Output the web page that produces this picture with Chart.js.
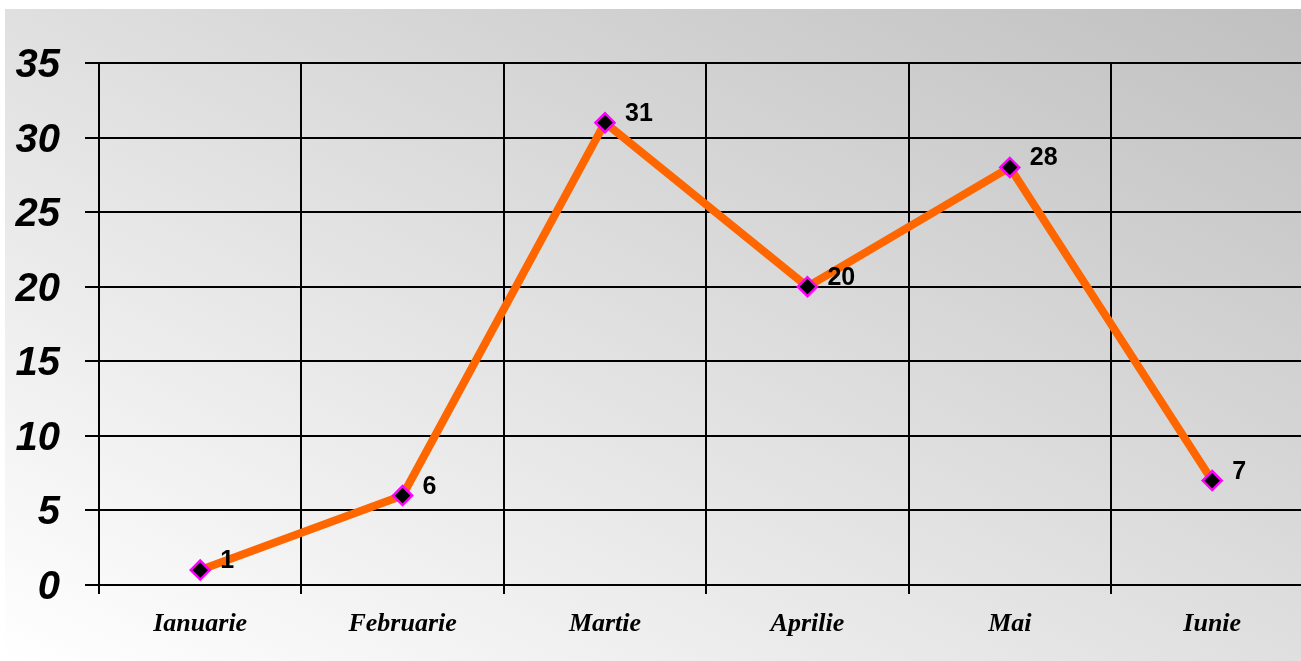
<!DOCTYPE html>
<html>
<head>
<meta charset="utf-8">
<script src="https://cdn.jsdelivr.net/npm/chart.js@4/dist/chart.umd.min.js"></script>
<style>
  html, body { margin: 0; padding: 0; overflow: hidden; background: #fff; }
  #wrap { width: 1301px; height: 661px; overflow: hidden; position: relative; }
  canvas { display: block; }
</style>
</head>
<body>
<div id="wrap"><canvas id="c" width="1330" height="661"></canvas></div>
<script>
const categories = ['Ianuarie', 'Februarie', 'Martie', 'Aprilie', 'Mai', 'Iunie'];
const values = [1, 6, 31, 20, 28, 7];
const yMin = 0;
const yMax = 35;
const yStep = 5;

const bgPlugin = {
  id: 'bg',
  beforeDraw(chart) {
    const ctx = chart.ctx;
    ctx.save();
    ctx.fillStyle = '#ffffff';
    ctx.fillRect(0, 0, chart.width, chart.height);
    ctx.translate(5, 9);
    ctx.scale(1296, 652);
    const g = ctx.createLinearGradient(0, 1, 1, 0);
    g.addColorStop(0, '#ffffff');
    g.addColorStop(1, '#c0c0c0');
    ctx.fillStyle = g;
    ctx.fillRect(0, 0, 1, 1);
    ctx.restore();
  }
};

const labelPlugin = {
  id: 'valueLabels',
  afterDatasetsDraw(chart) {
    const ctx = chart.ctx;
    const meta = chart.getDatasetMeta(0);
    ctx.save();
    ctx.fillStyle = '#000';
    ctx.font = "bold 25px 'Liberation Sans', Arial, sans-serif";
    ctx.textAlign = 'left';
    ctx.textBaseline = 'alphabetic';
    meta.data.forEach((pt, i) => {
      ctx.fillText(String(values[i]), pt.x + 20, pt.y - 2);
    });
    ctx.restore();
  }
};

new Chart(document.getElementById('c'), {
  type: 'line',
  data: {
    labels: categories,
    datasets: [{
      data: values,
      borderColor: '#ff6600',
      borderWidth: 8,
      tension: 0,
      pointStyle: 'rectRot',
      pointRadius: 9.5,
      pointHoverRadius: 9.5,
      pointBackgroundColor: '#000000',
      pointBorderColor: '#ff00ff',
      pointBorderWidth: 2.5,
      clip: false
    }]
  },
  options: {
    responsive: false,
    animation: false,
    devicePixelRatio: 1,
    layout: { padding: { top: 63, left: 0, right: 16.6, bottom: 0 } },
    plugins: { legend: { display: false }, tooltip: { enabled: false } },
    scales: {
      x: {
        type: 'category',
        offset: true,
        grid: { offset: true, color: '#000', lineWidth: 2, tickLength: 9, drawTicks: true },
        border: { color: '#000', width: 2 },
        ticks: {
          color: '#000',
          padding: 15,
          maxRotation: 0,
          autoSkip: false,
          font: { family: "'Liberation Serif', 'Times New Roman', serif", size: 26, style: 'italic', weight: 'bold' }
        },
        afterFit(scale) { scale.height = 76; }
      },
      y: {
        min: yMin,
        max: yMax,
        grid: { color: '#000', lineWidth: 2, tickLength: 14, drawTicks: true },
        border: { color: '#000', width: 2 },
        ticks: {
          stepSize: yStep,
          color: '#000',
          padding: 25,
          labelOffset: 3,
          font: { family: "'Liberation Sans', Arial, sans-serif", size: 40, style: 'italic', weight: 'bold' }
        },
        afterFit(scale) { scale.width = 99; }
      }
    }
  },
  plugins: [bgPlugin, labelPlugin]
});
</script>
</body>
</html>
